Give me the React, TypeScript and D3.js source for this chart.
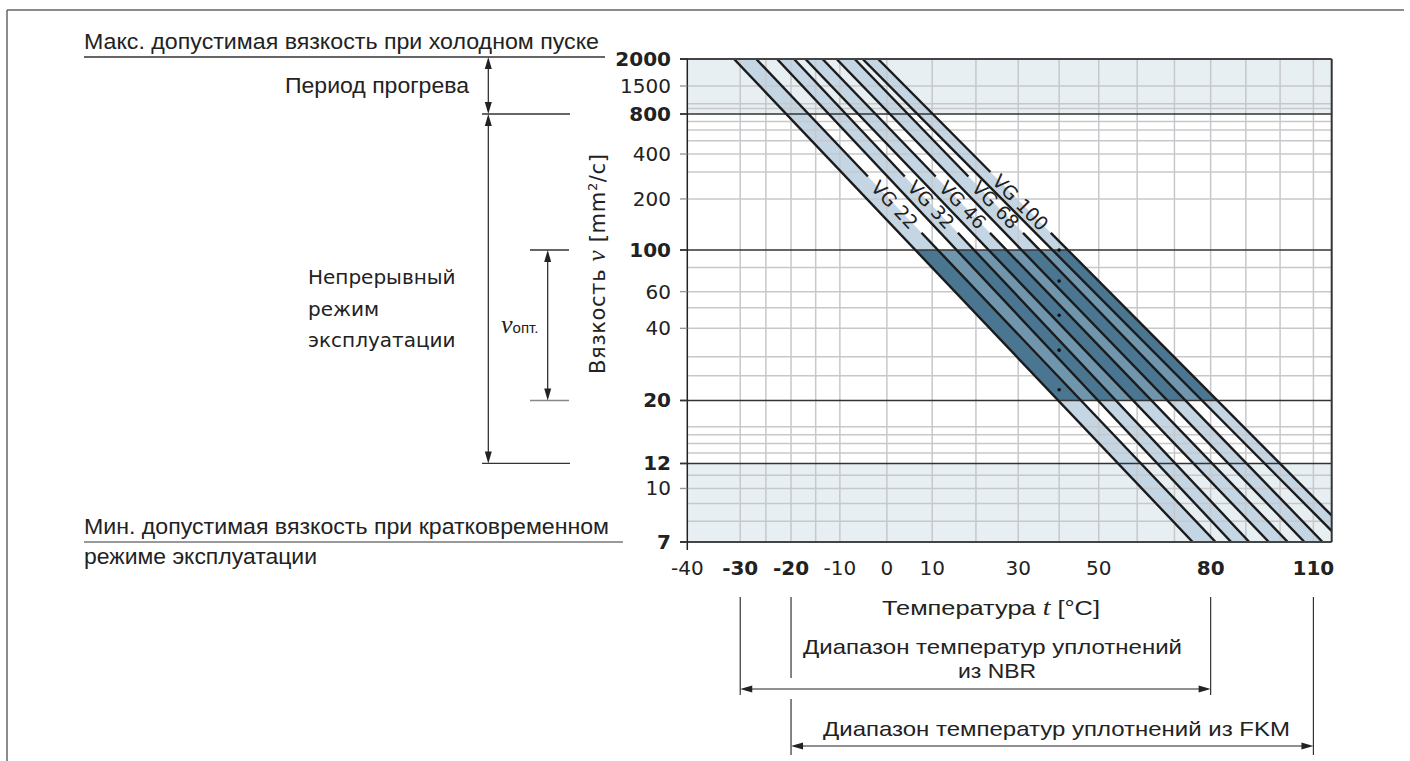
import React from 'react';
import * as d3 from 'd3';

// VG grades, band = nominal +-10 % at 40 °C
const grades = ['VG 22', 'VG 32', 'VG 46', 'VG 68', 'VG 100'];
const nominal = [22, 32, 46, 68, 100];
// temperature (°C) where each band edge meets 2000 mm²/s (top) and 7 mm²/s (bottom)
const edgeTop = [[-31.2, -26.9], [-22.8, -19.4], [-17.1, -13.6], [-10.7, -6.9], [-5.2, -1.9]];
const edgeBottom = [[75.0, 81.4], [85.8, 91.0], [96.7, 102.3], [107.3, 112.8], [119.0, 123.8]];
// viscosity span of the gap cut into the right edge for the label
const labelGap = [[280, 125], [280, 125], [280, 125], [280, 125], [300, 125]];

const yTicks = [2000, 1500, 800, 400, 200, 100, 60, 40, 20, 12, 10, 7];
const yBold = [2000, 800, 100, 20, 12, 7];
const yGrid = [1500, 1000, 900, 700, 600, 500, 400, 300, 200, 80, 60, 50, 40, 30, 25, 16, 15, 14, 13, 11, 10, 9, 8];
const yMajor = [800, 100, 20, 12];
const xTicks = [-40, -30, -20, -10, 0, 10, 30, 50, 80, 110];
const xBold = [-30, -20, 80, 110];
const xGrid = [-30, -25, -20, -15, -10, 0, 10, 20, 30, 40, 50, 60, 70, 80, 90, 100, 110];

const nbrRange = [-30, 80];
const fkmRange = [-20, 110];
const warmRange = [2000, 800];
const contRange = [800, 12];
const optRange = [100, 20];

const SANS = 'Liberation Sans, Arial, sans-serif';
const WIDE = 'DejaVu Sans, sans-serif';
const SERIF = 'Liberation Serif, DejaVu Serif, serif';

const walther = (v: number) => Math.log10(Math.log10(v + 0.7));

const left = 687.3;
const right = 1331.7;
const top = 59;
const bottom = 542;

const xs = d3.scaleLog().domain([-40 + 273.15, 115.6 + 273.15]).range([left, right]);
const x = (t: number) => xs(t + 273.15);
const yBreaks = [2000, 1500, 800, 100, 7];
const ys = d3.scaleLinear().domain(yBreaks.map(walther)).range([top, 86, 114, 250, bottom]);
const y = (v: number) => ys(walther(v));

type Pt = [number, number];
const edge = (g: number, side: number): [Pt, Pt] => [
  [x(edgeTop[g][side]), y(2000)],
  [x(edgeBottom[g][side]), y(7)],
];
const xAt = (e: [Pt, Pt], yy: number) =>
  e[0][0] + ((yy - e[0][1]) / (e[1][1] - e[0][1])) * (e[1][0] - e[0][0]);

const poly = (pts: Pt[]) => 'M' + pts.map((p) => p.join(',')).join('L') + 'Z';

const vArrow = (xx: number, y1: number, y2: number) => {
  const h = 12;
  const w = 3.5;
  return (
    <g>
      <line x1={xx} x2={xx} y1={y1 + 4} y2={y2 - 4} stroke="#222" strokeWidth={1.2} />
      <path d={poly([[xx, y1], [xx - w, y1 + h], [xx + w, y1 + h]])} fill="#222" />
      <path d={poly([[xx, y2], [xx - w, y2 - h], [xx + w, y2 - h]])} fill="#222" />
    </g>
  );
};
const hArrow = (x1: number, x2: number, yy: number) => {
  const h = 12;
  const w = 3.5;
  return (
    <g>
      <line x1={x1 + 4} x2={x2 - 4} y1={yy} y2={yy} stroke="#222" strokeWidth={1.2} />
      <path d={poly([[x1, yy], [x1 + h, yy - w], [x1 + h, yy + w]])} fill="#222" />
      <path d={poly([[x2, yy], [x2 - h, yy - w], [x2 - h, yy + w]])} fill="#222" />
    </g>
  );
};

const App = () => {
  const bands = grades.map((_, g) => {
    const a = edge(g, 0);
    const b = edge(g, 1);
    return poly([a[0], b[0], b[1], a[1]]);
  });
  const first = edge(0, 0);
  const last = edge(grades.length - 1, 1);
  const darkArea = poly([first[0], last[0], last[1], first[1]]);

  return (
    <svg
      width={1410}
      height={761}
      style={{ position: 'absolute', left: 0, top: 0, display: 'block', background: '#fff' }}
    >
      <defs>
        <clipPath id="plot">
          <rect x={left} y={top} width={right - left} height={bottom - top} />
        </clipPath>
        <clipPath id="opt">
          <rect x={left} y={y(100)} width={right - left} height={y(20) - y(100)} />
        </clipPath>
      </defs>

      {/* outer frame */}
      <line x1={7} x2={1404} y1={10} y2={10} stroke="#666" strokeWidth={1.5} />
      <line x1={7} x2={7} y1={10} y2={761} stroke="#666" strokeWidth={1.5} />

      {/* shaded limit zones */}
      <rect x={left} y={y(2000)} width={right - left} height={y(800) - y(2000)} fill="#e8eff2" />
      <rect x={left} y={y(12)} width={right - left} height={y(7) - y(12)} fill="#e8eff2" />

      <g clipPath="url(#plot)">
        {bands.map((d, i) => (
          <path key={i} d={d} fill="#c4d6e4" />
        ))}
      </g>

      {/* grid */}
      {xGrid.map((t) => (
        <line key={t} x1={x(t)} x2={x(t)} y1={top} y2={bottom} stroke="#c6c8cb" strokeWidth={1.5} />
      ))}
      {yGrid.map((v) => (
        <line key={v} x1={left} x2={right} y1={y(v)} y2={y(v)} stroke="#c6c8cb" strokeWidth={1.5} />
      ))}

      {/* optimal viscosity zone */}
      <g clipPath="url(#opt)">
        <path d={darkArea} fill="#7096ae" />
        {bands.map((d, i) => (
          <path key={i} d={d} fill="#4a7692" />
        ))}
      </g>

      {yMajor.map((v) => (
        <line key={v} x1={680} x2={right} y1={y(v)} y2={y(v)} stroke="#333" strokeWidth={1.4} />
      ))}

      {/* band edges */}
      <g clipPath="url(#plot)" stroke="#1b1b1b" strokeWidth={2.4}>
        {grades.map((_, g) => {
          const a = edge(g, 0);
          const b = edge(g, 1);
          const y1 = y(labelGap[g][0]);
          const y2 = y(labelGap[g][1]);
          return (
            <g key={g}>
              <line x1={a[0][0]} y1={a[0][1]} x2={a[1][0]} y2={a[1][1]} />
              <line x1={b[0][0]} y1={b[0][1]} x2={xAt(b, y1)} y2={y1} />
              <line x1={xAt(b, y2)} y1={y2} x2={b[1][0]} y2={b[1][1]} />
            </g>
          );
        })}
      </g>
      {grades.map((name, g) => {
        const b = edge(g, 1);
        const ym = (y(labelGap[g][0]) + y(labelGap[g][1])) / 2;
        const xm = xAt(b, ym);
        const ang = (Math.atan2(b[1][1] - b[0][1], b[1][0] - b[0][0]) * 180) / Math.PI;
        return (
          <text
            key={name}
            transform={`translate(${xm},${ym}) rotate(${ang})`}
            textAnchor="middle"
            dominantBaseline="central"
            fontFamily={WIDE}
            fontSize={19}
            fill="#222"
          >
            {name}
          </text>
        );
      })}
      {nominal.map((v) => (
        <circle key={v} cx={x(40)} cy={y(v)} r={1.8} fill="#111" />
      ))}

      {/* frame */}
      <line x1={680} x2={right} y1={top} y2={top} stroke="#444" strokeWidth={2} />
      <line x1={680} x2={right} y1={bottom} y2={bottom} stroke="#444" strokeWidth={2} />
      <line x1={right} x2={right} y1={top} y2={bottom} stroke="#333" strokeWidth={2} />
      <line x1={left} x2={left} y1={top} y2={bottom + 8} stroke="#222" strokeWidth={1.5} />

      {/* y axis */}
      {yTicks.map((v) => {
        const b = yBold.includes(v);
        return (
          <g key={v}>
            <line x1={680} x2={left} y1={y(v)} y2={y(v)} stroke={b ? '#333' : '#999'} strokeWidth={1.4} />
            <text
              x={671}
              y={y(v)}
              textAnchor="end"
              dominantBaseline="central"
              fontFamily={WIDE}
              fontSize={20}
              fontWeight={b ? 'bold' : 'normal'}
              fill="#222"
            >
              {v}
            </text>
          </g>
        );
      })}
      <text
        transform="translate(605,374) rotate(-90)"
        fontFamily={WIDE}
        fontSize={21}
        fill="#222"
        textLength={220}
        lengthAdjust="spacing"
      >
        Вязкость{' '}
        <tspan fontFamily={SERIF} fontStyle="italic" fontSize={25}>
          ν
        </tspan>
        {'  '}[mm
        <tspan dy={-8} fontSize={13}>
          2
        </tspan>
        <tspan dy={8}>/c]</tspan>
      </text>

      {/* x axis */}
      {xTicks.map((t) => (
        <text
          key={t}
          x={x(t)}
          y={568}
          textAnchor="middle"
          dominantBaseline="central"
          fontFamily={WIDE}
          fontSize={20}
          fontWeight={xBold.includes(t) ? 'bold' : 'normal'}
          fill="#222"
        >
          {t}
        </text>
      ))}
      <text x={882} y={615} fontFamily={SANS} fontSize={21} fill="#222" textLength={218} lengthAdjust="spacingAndGlyphs">
        Температура{'  '}
        <tspan fontFamily={SERIF} fontStyle="italic" fontSize={23}>
          t
        </tspan>
        {'  '}[°C]
      </text>

      {/* seal temperature ranges */}
      <g stroke="#333" strokeWidth={1.2}>
        <line x1={x(nbrRange[0])} x2={x(nbrRange[0])} y1={597} y2={695} />
        <line x1={x(fkmRange[0])} x2={x(fkmRange[0])} y1={597} y2={678} />
        <line x1={x(fkmRange[0])} x2={x(fkmRange[0])} y1={699} y2={755} />
        <line x1={x(nbrRange[1])} x2={x(nbrRange[1])} y1={597} y2={695} />
        <line x1={x(fkmRange[1])} x2={x(fkmRange[1])} y1={597} y2={755} />
      </g>
      {hArrow(x(nbrRange[0]), x(nbrRange[1]), 689)}
      {hArrow(x(fkmRange[0]), x(fkmRange[1]), 746)}
      <text x={803} y={654} fontFamily={SANS} fontSize={21} fill="#222" textLength={379} lengthAdjust="spacingAndGlyphs">
        Диапазон температур уплотнений
      </text>
      <text x={958} y={678} fontFamily={SANS} fontSize={21} fill="#222" textLength={78} lengthAdjust="spacingAndGlyphs">
        из NBR
      </text>
      <text x={823} y={736} fontFamily={SANS} fontSize={21} fill="#222" textLength={467} lengthAdjust="spacingAndGlyphs">
        Диапазон температур уплотнений из FKM
      </text>

      {/* left annotations */}
      <text x={84} y={49} fontFamily={SANS} fontSize={22} fill="#222" textLength={515} lengthAdjust="spacingAndGlyphs">
        Макс. допустимая вязкость при холодном пуске
      </text>
      <line x1={84} x2={605} y1={57} y2={57} stroke="#333" strokeWidth={1.3} />
      <text x={285} y={93} fontFamily={SANS} fontSize={22} fill="#222" textLength={184} lengthAdjust="spacingAndGlyphs">
        Период прогрева
      </text>
      {vArrow(488.3, y(warmRange[0]) - 2, y(warmRange[1]))}
      <line x1={482} x2={570} y1={y(800)} y2={y(800)} stroke="#333" strokeWidth={1.3} />
      {vArrow(488.3, y(contRange[0]), y(contRange[1]))}
      <line x1={482} x2={570} y1={y(12)} y2={y(12)} stroke="#333" strokeWidth={1.3} />
      <text fontFamily={WIDE} fontSize={20} fill="#222">
        <tspan x={308} y={284}>Непрерывный</tspan>
        <tspan x={308} y={316}>режим</tspan>
        <tspan x={308} y={347}>эксплуатации</tspan>
      </text>
      <line x1={530} x2={569} y1={y(optRange[0])} y2={y(optRange[0])} stroke="#333" strokeWidth={1.3} />
      <line x1={530} x2={569} y1={y(optRange[1])} y2={y(optRange[1])} stroke="#888" strokeWidth={1.3} />
      {vArrow(547.7, y(optRange[0]), y(optRange[1]))}
      <text x={501} y={333} fill="#222">
        <tspan fontFamily={SERIF} fontStyle="italic" fontSize={26}>
          ν
        </tspan>
        <tspan fontFamily={SANS} fontSize={15}>
          опт.
        </tspan>
      </text>

      <text x={84} y={534} fontFamily={SANS} fontSize={22} fill="#222" textLength={525} lengthAdjust="spacingAndGlyphs">
        Мин. допустимая вязкость при кратковременном
      </text>
      <line x1={84} x2={623} y1={542} y2={542} stroke="#777" strokeWidth={1.3} />
      <text x={84} y={564} fontFamily={SANS} fontSize={22} fill="#222" textLength={233} lengthAdjust="spacingAndGlyphs">
        режиме эксплуатации
      </text>
    </svg>
  );
};

export default App;
